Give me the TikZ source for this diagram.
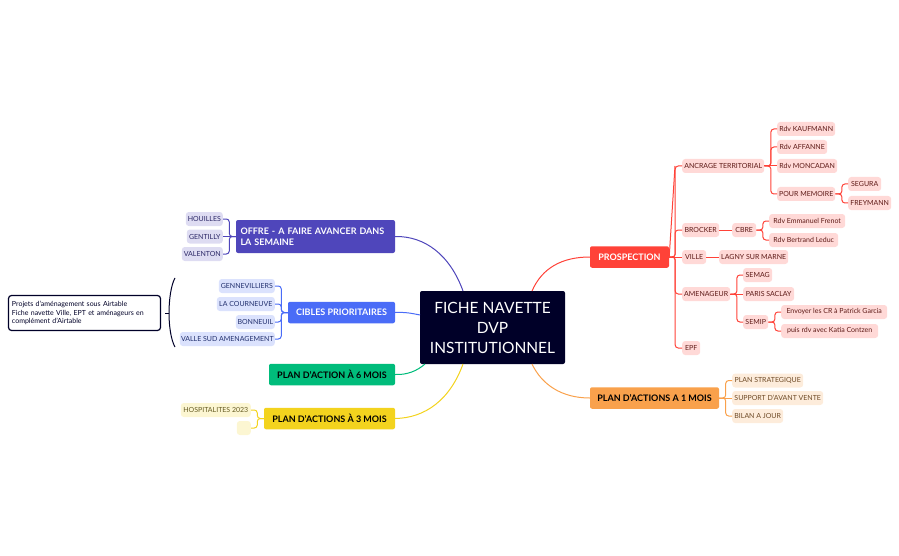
\documentclass[tikz,border=0pt]{standalone}
\usepackage{fontspec}
\setmainfont{Lato}
\usetikzlibrary{calc}
\definecolor{rootcol}{HTML}{000028}
\definecolor{redcol}{HTML}{FF4238}
\definecolor{redlight}{HTML}{FFD9D7}
\definecolor{redtext}{HTML}{5E1A17}
\definecolor{orangecol}{HTML}{F9A14C}
\definecolor{orangelight}{HTML}{FDECDB}
\definecolor{orangetext}{HTML}{6E4A26}
\definecolor{yellowcol}{HTML}{F3D31E}
\definecolor{yellowlight}{HTML}{FCF6D2}
\definecolor{yellowtext}{HTML}{655B22}
\definecolor{greencol}{HTML}{00BC7B}
\definecolor{bluecol}{HTML}{4A6CF7}
\definecolor{bluelight}{HTML}{DBE2FD}
\definecolor{bluetext}{HTML}{22306E}
\definecolor{indigocol}{HTML}{4F46BB}
\definecolor{indigolight}{HTML}{DEDCF2}
\definecolor{indigotext}{HTML}{2B2766}
\tikzset{
 branch/.style = {
    rectangle, rounded corners=2pt, inner sep=0pt,
    font=\fontsize{9}{11.5}\selectfont\bfseries,
    minimum height=21.5pt},
 leaf/.style = {
    rectangle, rounded corners=3pt, inner sep=0pt,
    font=\fontsize{7}{8}\selectfont,
    minimum height=14pt},
 redleaf/.style = {leaf, anchor=west, fill=redlight, text=redtext},
 orangeleaf/.style = {leaf, anchor=west, fill=orangelight, text=orangetext},
 indigoleaf/.style = {leaf, anchor=east, fill=indigolight, text=indigotext},
 blueleaf/.style = {leaf, anchor=east, fill=bluelight, text=bluetext},
 yellowleaf/.style = {leaf, anchor=east, fill=yellowlight, text=yellowtext},
 line/.style = {draw, line width=1pt, rounded corners=3pt},
}
\begin{document}
\begin{tikzpicture}[x=1pt, y=-1pt]
    \useasboundingbox (0,0) rectangle (899,556);

    % Place nodes
    \node [rectangle, rounded corners=2pt, fill=rootcol, text=white, align=center,
           minimum width=145pt, minimum height=73pt, inner sep=0pt,
           font=\fontsize{15.5}{20}\selectfont] (root) at (492.5,327.5)
           {FICHE NAVETTE\\DVP\\INSTITUTIONNEL};

    \node [branch, fill=redcol, text=white, minimum width=79pt]     (pros)   at (629.5,257) {PROSPECTION};
    \node [branch, fill=orangecol, text=black, minimum width=129pt] (mois1)  at (654.5,398) {PLAN D'ACTIONS A 1 MOIS};
    \node [branch, fill=indigocol, text=white, minimum width=159pt, minimum height=33pt,
           align=left, text width=150pt] (offre) at (315.5,236.5) {OFFRE - A FAIRE AVANCER DANS\\LA SEMAINE};
    \node [branch, fill=bluecol, text=white, minimum width=107pt]   (cibles) at (341.5,312.5) {CIBLES PRIORITAIRES};
    \node [branch, fill=greencol, text=black, minimum width=126pt]  (mois6)  at (332,374.5) {PLAN D'ACTION À 6 MOIS};
    \node [branch, fill=yellowcol, text=black, minimum width=131pt] (mois3)  at (329.5,418.5) {PLAN D'ACTIONS À 3 MOIS};

    % Prospection
    \node [redleaf, minimum width=82pt] (ancrage) at (682,166) {ANCRAGE TERRITORIAL};
    \node [redleaf, minimum width=58pt] (kauf)    at (777,129) {Rdv KAUFMANN};
    \node [redleaf, minimum width=50pt] (affanne) at (777,147) {Rdv AFFANNE};
    \node [redleaf, minimum width=60pt] (monca)   at (777,166) {Rdv MONCADAN};
    \node [redleaf, minimum width=58pt] (memoire) at (777,194) {POUR MEMOIRE};
    \node [redleaf, minimum width=33pt] (segura)  at (848,184) {SEGURA};
    \node [redleaf, minimum width=43pt] (frey)    at (848,203) {FREYMANN};
    \node [redleaf, minimum width=37pt] (brocker) at (682,230) {BROCKER};
    \node [redleaf, minimum width=24pt] (cbre)    at (732,230) {CBRE};
    \node [redleaf, minimum width=76pt] (frenot)  at (769,221) {Rdv Emmanuel Frenot};
    \node [redleaf, minimum width=69pt] (leduc)   at (769,240) {Rdv Bertrand Leduc};
    \node [redleaf, minimum width=24pt] (ville)   at (682,257) {VILLE};
    \node [redleaf, minimum width=69pt] (lagny)   at (719,257) {LAGNY SUR MARNE};
    \node [redleaf, minimum width=48pt] (amen)    at (682,294) {AMENAGEUR};
    \node [redleaf, minimum width=29pt] (semag)   at (743,275) {SEMAG};
    \node [redleaf, minimum width=51pt] (saclay)  at (743,294) {PARIS SACLAY};
    \node [redleaf, minimum width=25pt] (semip)   at (743,322) {SEMIP};
    \node [redleaf, minimum width=106pt] (garcia) at (781,312) {Envoyer les CR à Patrick Garcia};
    \node [redleaf, minimum width=97pt] (katia)   at (781,331) {puis rdv avec Katia Contzen};
    \node [redleaf, minimum width=18pt] (epf)     at (682,348) {EPF};

    % Plan 1 mois
    \node [orangeleaf, minimum width=71pt] (strat)   at (732,380.5) {PLAN STRATEGIQUE};
    \node [orangeleaf, minimum width=91pt] (support) at (732,398) {SUPPORT D'AVANT VENTE};
    \node [orangeleaf, minimum width=51pt] (bilan)   at (732,416) {BILAN A JOUR};

    % Offre
    \node [indigoleaf, minimum width=37pt] (houilles) at (223,219) {HOUILLES};
    \node [indigoleaf, minimum width=36pt] (gentilly) at (223,236.5) {GENTILLY};
    \node [indigoleaf, minimum width=41pt] (valenton) at (223,254) {VALENTON};

    % Cibles
    \node [blueleaf, minimum width=56pt] (genne)   at (275,286) {GENNEVILLIERS};
    \node [blueleaf, minimum width=58pt] (cour)    at (275,304) {LA COURNEUVE};
    \node [blueleaf, minimum width=39pt] (bonneuil) at (275,322) {BONNEUIL};
    \node [blueleaf, minimum width=95pt] (valle)   at (275,339) {VALLE SUD AMENAGEMENT};

    % Plan 3 mois
    \node [yellowleaf, minimum width=70pt] (hospi) at (251,410) {HOSPITALITES 2023};
    \node [yellowleaf, minimum width=14pt] (vide)  at (251,428) {};

    % Note
    \node [rectangle, draw=rootcol, line width=1.2pt, rounded corners=3pt, fill=white, text=rootcol,
           minimum width=152pt, minimum height=35pt, inner sep=0pt, text width=145pt, align=left,
           font=\fontsize{7}{8.7}\selectfont] (note) at (84.5,313)
           {Projets d'aménagement sous Airtable\\Fiche navette Ville, EPT et aménageurs en\\complément d'Airtable};

    % Place coordinates
    \coordinate (rootA) at (463,291);
    \coordinate (rootB) at (532,291);
    \coordinate (rootC) at (420,315);
    \coordinate (rootD) at (425,364);
    \coordinate (rootE) at (463,364);
    \coordinate (rootF) at (532,364);
    \coordinate (bktop) at (175,278);
    \coordinate (bkmid) at (169,313);
    \coordinate (bkbot) at (175,347);
    \coordinate (bkstem) at (165,313);

    % Main branches
    \draw[line, redcol]    (rootB) .. controls (542,268) and (562,257) .. (pros.west);
    \draw[line, orangecol] (rootF) .. controls (542,385) and (562,398) .. (mois1.west);
    \draw[line, indigocol] (rootA) .. controls (450,255) and (425,236) .. (offre.east);
    \draw[line, bluecol]   (rootC) .. controls (410,313) and (405,312) .. (cibles.east);
    \draw[line, greencol]  (rootD) .. controls (417,371) and (407,375) .. (mois6.east);
    \draw[line, yellowcol] (rootE) .. controls (450,400) and (425,418) .. (mois3.east);

    % Leaves
    \begin{scope}[redcol]
    \draw[line] (pros.east) -- (ancrage.west -| 675,257);
    \foreach \a in {ancrage, brocker, amen, epf}
        \draw[line] (pros.east) -- ++(6,0) |- (\a.west);
    \draw[line] (pros.east) -- (ville.west);
    \draw[line] (ancrage.east) -- (monca.west);
    \foreach \a in {kauf, affanne, memoire}
        \draw[line] (ancrage.east) -- ++(6.5,0) |- (\a.west);
    \foreach \a in {segura, frey}
        \draw[line] (memoire.east) -- ++(6.5,0) |- (\a.west);
    \draw[line] (brocker.east) -- (cbre.west);
    \foreach \a in {frenot, leduc}
        \draw[line] (cbre.east) -- ++(6.5,0) |- (\a.west);
    \draw[line] (ville.east) -- (lagny.west);
    \draw[line] (amen.east) -- (saclay.west);
    \foreach \a in {semag, semip}
        \draw[line] (amen.east) -- ++(6.5,0) |- (\a.west);
    \foreach \a in {garcia, katia}
        \draw[line] (semip.east) -- ++(6.5,0) |- (\a.west);
    \end{scope}

    \begin{scope}[orangecol]
    \draw[line] (mois1.east) -- (support.west);
    \foreach \a in {strat, bilan}
        \draw[line] (mois1.east) -- ++(6.5,0) |- (\a.west);
    \end{scope}

    \begin{scope}[indigocol]
    \draw[line] (offre.west) -- (gentilly.east);
    \foreach \a in {houilles, valenton}
        \draw[line] (offre.west) -- ++(-6.5,0) |- (\a.east);
    \end{scope}

    \begin{scope}[bluecol]
    \foreach \a in {genne, cour, bonneuil, valle}
        \draw[line] (cibles.west) -- ++(-6.5,0) |- (\a.east);
    \end{scope}

    \begin{scope}[yellowcol]
    \foreach \a in {hospi, vide}
        \draw[line] (mois3.west) -- ++(-6.5,0) |- (\a.east);
    \end{scope}

    % Bracket
    \draw[line width=1pt, rootcol] (bktop) .. controls (171,285) and (169,300) .. (bkmid)
        .. controls (169,326) and (171,340) .. (bkbot);
    \draw[line width=1pt, rootcol] (bkstem) -- (bkmid);
\end{tikzpicture}
\end{document}
